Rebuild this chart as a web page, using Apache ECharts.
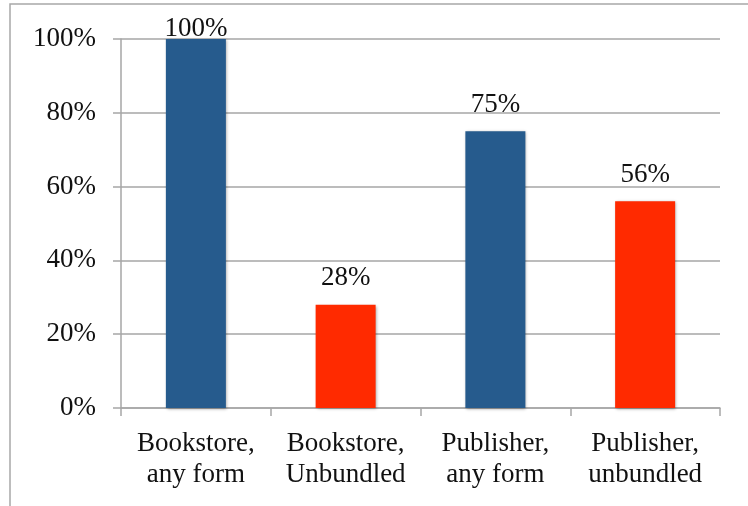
<!DOCTYPE html>
<html>
<head>
<meta charset="utf-8">
<script src="https://cdn.jsdelivr.net/npm/echarts@6/dist/echarts.min.js"></script>
<style>
  html, body { margin: 0; padding: 0; background: #fff; }
  #chart { width: 748px; height: 506px; }
</style>
</head>
<body>
<div id="chart"></div>
<script>
// data
const categories = ['Bookstore,\nany form', 'Bookstore,\nUnbundled', 'Publisher,\nany form', 'Publisher,\nunbundled'];
const values = [100, 28, 75, 56];
const barColors = ['#265B8D', '#FF2A00', '#265B8D', '#FF2A00'];
const yTicks = [0, 20, 40, 60, 80, 100];

const font = 'Liberation Serif';
const yMax = yTicks[yTicks.length - 1];
const myChart = echarts.init(document.getElementById('chart'));

myChart.setOption({
  backgroundColor: '#fff',
  animation: false,
  // outer chart frame, cut off at right and bottom
  graphic: [
    {
      type: 'rect',
      shape: { x: 10, y: 4, width: 900, height: 700 },
      style: { fill: 'none', stroke: '#a8a8a8', lineWidth: 1.5 },
    },
  ],
  grid: {
    left: 121,
    right: 28,
    top: 39,
    bottom: 98,
  },
  xAxis: {
    type: 'category',
    data: categories,
    boundaryGap: true,
    axisLine: { lineStyle: { color: '#a6a6a6', width: 1.5 } },
    axisTick: { show: true, length: 8, lineStyle: { color: '#a6a6a6', width: 1.5 } },
    axisLabel: {
      color: '#111',
      fontFamily: font,
      fontSize: 27,
      lineHeight: 31,
      margin: 20,
      interval: 0,
    },
  },
  yAxis: {
    type: 'value',
    min: yTicks[0],
    max: yMax,
    interval: 20,
    axisLine: { show: true, lineStyle: { color: '#a6a6a6', width: 1.5 } },
    axisTick: { show: true, length: 8, lineStyle: { color: '#a6a6a6', width: 1.5 } },
    splitLine: { lineStyle: { color: '#a6a6a6', width: 1.5 } },
    axisLabel: {
      color: '#111',
      fontFamily: font,
      fontSize: 27,
      margin: 25,
      formatter: '{value}%',
    },
  },
  series: [
    {
      type: 'bar',
      barWidth: 60,
      data: values.map((v, i) => ({
        value: v,
        itemStyle: { color: barColors[i] },
        // label at the very top gets pushed down so it stays inside the chart
        label: v >= yMax ? { distance: -3 } : undefined,
      })),
      itemStyle: {
        shadowColor: 'rgba(0,0,0,0.35)',
        shadowBlur: 3,
        shadowOffsetX: 1,
        shadowOffsetY: 1,
      },
      label: {
        show: true,
        position: 'top',
        distance: 13,
        color: '#111',
        fontFamily: font,
        fontSize: 27,
        formatter: '{c}%',
      },
    },
  ],
});
</script>
</body>
</html>
